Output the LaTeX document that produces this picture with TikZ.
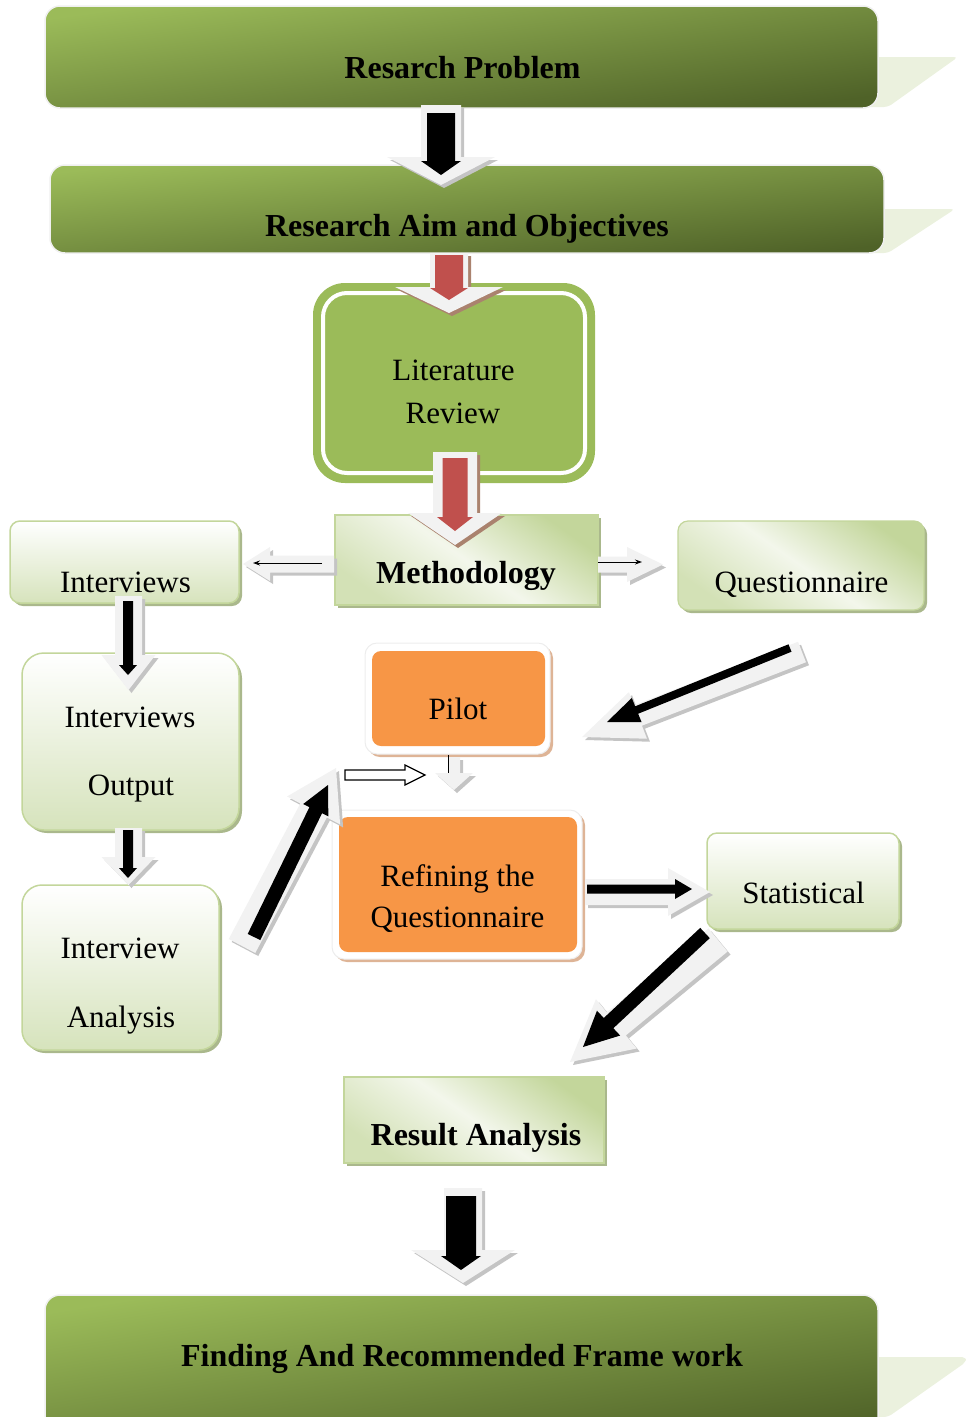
\documentclass[tikz,border=0pt]{standalone}
\usepackage{fontspec}
\setmainfont{Liberation Serif}
\usetikzlibrary{calc,arrows.meta,shadows}

\definecolor{oliveL}{RGB}{155,187,89}
\definecolor{oliveD}{RGB}{79,98,40}
\definecolor{paleG}{RGB}{235,241,222}
\definecolor{midG}{RGB}{214,227,188}
\definecolor{edgeG}{RGB}{195,214,155}
\definecolor{shadeG}{RGB}{170,184,140}
\definecolor{orangeF}{RGB}{247,150,70}
\definecolor{tanS}{RGB}{222,180,150}
\definecolor{arrowW}{RGB}{242,242,242}
\definecolor{arrowS}{RGB}{196,196,196}
\definecolor{redA}{RGB}{192,80,77}
\definecolor{redS}{RGB}{170,130,110}

% block arrow polygon: #1 style, #2 tail, #3 tip, #4 shaft half width, #5 head half width, #6 head length
\newcommand\blockarrow[6]{%
  \path ($(#3)!#6!(#2)$) coordinate (ba-neck);
  \path[#1] ($(#2)!#4!90:(#3)$) -- ($(ba-neck)!#4!90:(#3)$) -- ($(ba-neck)!#5!90:(#3)$) -- (#3)
    -- ($(ba-neck)!#5!-90:(#3)$) -- ($(ba-neck)!#4!-90:(#3)$) -- ($(#2)!#4!-90:(#3)$) -- cycle;}
% light raised arrow with a soft shadow
\newcommand\raisedarrow[6][arrowS]{%
  \blockarrow{fill=#1, transform canvas={shift={(3pt,-3pt)}}}{#2}{#3}{#4}{#5}{#6}%
  \blockarrow{fill=arrowW}{#2}{#3}{#4}{#5}{#6}}

\tikzset{
  banner/.style={rounded corners=15pt, draw=black!6, line width=1.5pt,
    top color=oliveL, bottom color=oliveD, shading angle=8},
  bannerback/.style={fill=paleG, rounded corners=4pt},
  softbox/.style={rounded corners=10pt, draw=edgeG, line width=1.5pt,
    top color=white, bottom color=midG,
    drop shadow={shadow xshift=3pt, shadow yshift=-3pt, fill=shadeG, opacity=1}},
  diagbox/.style={draw=edgeG, line width=1.2pt,
    top color=edgeG, bottom color=edgeG!60!paleG, middle color=paleG!60!white, shading angle=-35,
    drop shadow={shadow xshift=3pt, shadow yshift=-3pt, fill=shadeG, opacity=1}},
  orangeframe/.style={fill=white, draw=black!7, line width=1pt, rounded corners=12pt,
    drop shadow={shadow xshift=3pt, shadow yshift=-3pt, fill=tanS, opacity=1}},
  orangebox/.style={fill=orangeF, rounded corners=9pt},
  boldtext/.style={font=\fontsize{32}{38}\selectfont\bfseries, anchor=base, inner sep=0pt},
  plaintext/.style={font=\fontsize{31}{37}\selectfont, anchor=base, inner sep=0pt},
  thinarrow/.style={line width=1pt, -{Stealth[length=7pt,width=5pt]}},
}

\begin{document}
\begin{tikzpicture}[x=1pt,y=-1pt]
\useasboundingbox (0,0) rectangle (966,1417);
\clip (0,0) rectangle (966,1417);

% ---------- banners ----------
\fill[bannerback] (860,57) -- (958,57) -- (888,107) -- (860,107) -- cycle;
\node[banner, minimum width=833pt, minimum height=102pt] (rp) at (461.5,57) {};
\node[boldtext] (rp-t) at (462.5,78) {Resarch Problem};

\fill[bannerback] (860,209) -- (955,209) -- (888,253) -- (860,253) -- cycle;
\node[banner, shading angle=6, minimum width=834pt, minimum height=88pt] (ra) at (467,209) {};
\node[boldtext] (ra-t) at (467,236) {Research Aim and Objectives};

\fill[bannerback] (860,1357) -- (966,1357) -- (966,1362) -- (888,1417) -- (860,1417) -- cycle;
\node[banner, shading angle=9, minimum width=833pt, minimum height=145pt] (fin) at (461.5,1367.5) {};
\node[boldtext] (fin-t) at (462,1366) {Finding And Recommended Frame work};

% ---------- literature review ----------
\node[fill=oliveL, rounded corners=32pt, minimum width=282pt, minimum height=200pt] (lrframe) at (454,383) {};
\node[draw=white, line width=4pt, rounded corners=24pt, minimum width=262pt, minimum height=180pt] (lr) at (454,383) {};
\node[plaintext] (lr-t1) at (453.5,380) {Literature};
\node[plaintext] (lr-t2) at (453,423) {Review};

% ---------- methodology row ----------
\node[diagbox, minimum width=263pt, minimum height=90pt] (meth) at (466.5,560) {};
\node[boldtext] (meth-t) at (466,583) {Methodology};

\node[softbox, minimum width=229pt, minimum height=82pt] (intv) at (124.5,562) {};
\node[plaintext] (intv-t) at (125.5,592) {Interviews};

\node[diagbox, rounded corners=10pt, minimum width=246pt, minimum height=89pt] (quest) at (801,565.5) {};
\node[plaintext] (quest-t) at (801.5,592) {Questionnaire};

% ---------- interview branch ----------
\node[softbox, rounded corners=22pt, minimum width=217pt, minimum height=177pt] (io) at (130.5,741.5) {};
\node[plaintext] (io-t1) at (130,727) {Interviews};
\node[plaintext] (io-t2) at (131,795) {Output};

\node[softbox, rounded corners=20pt, minimum width=197pt, minimum height=165pt] (ia) at (120.5,967.5) {};
\node[plaintext] (ia-t1) at (120,958) {Interview};
\node[plaintext] (ia-t2) at (121,1027) {Analysis};

% ---------- questionnaire branch ----------
\node[orangeframe, minimum width=185pt, minimum height=111pt] (pilotframe) at (457.5,698.5) {};
\node[orangebox, minimum width=173pt, minimum height=95pt] (pilot) at (458.5,698.5) {};
\node[plaintext] (pilot-t) at (458,719) {Pilot};

\node[orangeframe, minimum width=250pt, minimum height=149pt] (refframe) at (457,884.5) {};
\node[orangebox, minimum width=238pt, minimum height=135pt] (ref) at (458,884.5) {};
\node[plaintext] (ref-t1) at (457.5,886) {Refining the};
\node[plaintext] (ref-t2) at (457.5,927) {Questionnaire};

\node[softbox, minimum width=192pt, minimum height=96pt] (stat) at (803,881) {};
\node[plaintext] (stat-t) at (803.5,903) {Statistical};

\node[diagbox, minimum width=260pt, minimum height=86pt] (res) at (474,1120) {};
\node[boldtext] (res-t) at (476,1145) {Result Analysis};

% ---------- connectors ----------
% research problem -> aim
\coordinate (a1o) at (441,105); \coordinate (a1e) at (441,185);
\coordinate (a1i) at (441,113); \coordinate (a1j) at (441,175);
\raisedarrow{a1o}{a1e}{20pt}{54pt}{28pt}
\blockarrow{fill=black}{a1i}{a1j}{14pt}{20pt}{14pt}

% aim -> literature review
\coordinate (a2o) at (449,253); \coordinate (a2e) at (449,313);
\coordinate (a2i) at (449,255); \coordinate (a2j) at (449,300);
\raisedarrow[redS]{a2o}{a2e}{19pt}{54pt}{26pt}
\blockarrow{fill=redA}{a2i}{a2j}{14pt}{19pt}{12pt}

% literature review -> methodology
\coordinate (a3o) at (455,452); \coordinate (a3e) at (455,545);
\coordinate (a3i) at (455,458); \coordinate (a3j) at (455,531);
\raisedarrow[redS]{a3o}{a3e}{22pt}{47pt}{32pt}
\blockarrow{fill=redA}{a3i}{a3j}{12.5pt}{18pt}{14pt}

% methodology -> interviews
\coordinate (a4o) at (334,564); \coordinate (a4e) at (243,564);
\raisedarrow{a4o}{a4e}{8.5pt}{17pt}{27pt}
\coordinate (a4i) at (322,563); \coordinate (a4j) at (253,563);
\draw[thinarrow] (a4i) -- (a4j);

% methodology -> questionnaire
\coordinate (a5o) at (598,564.5); \coordinate (a5e) at (663,564.5);
\raisedarrow{a5o}{a5e}{8pt}{17.5pt}{36pt}
\coordinate (a5i) at (598,562); \coordinate (a5j) at (642,562);
\draw[thinarrow] (a5i) -- (a5j);

% interviews -> interviews output
\coordinate (a6o) at (128.5,596); \coordinate (a6e) at (128.5,690);
\coordinate (a6i) at (128,601); \coordinate (a6j) at (128,675);
\raisedarrow{a6o}{a6e}{13.5pt}{27pt}{35pt}
\blockarrow{fill=black}{a6i}{a6j}{5pt}{9pt}{10pt}

% interviews output -> interview analysis
\coordinate (a7o) at (128.5,828); \coordinate (a7e) at (128.5,885);
\coordinate (a7i) at (128,830); \coordinate (a7j) at (128,878);
\raisedarrow{a7o}{a7e}{13.5pt}{27pt}{28pt}
\blockarrow{fill=black}{a7i}{a7j}{5pt}{9pt}{10pt}

% interview analysis -> pilot stage
\coordinate (a8o) at (242,946); \coordinate (a8e) at (336,768);
\coordinate (a8i) at (254,937); \coordinate (a8j) at (328,785);
\raisedarrow{a8o}{a8e}{15pt}{30pt}{48pt}
\blockarrow{fill=black}{a8i}{a8j}{7pt}{14pt}{28pt}

% questionnaire -> pilot
\coordinate (a9o) at (802,652); \coordinate (a9e) at (582,737);
\coordinate (a9i) at (790,648); \coordinate (a9j) at (607,722);
\raisedarrow{a9o}{a9e}{11pt}{25pt}{60pt}
\blockarrow{fill=black}{a9i}{a9j}{4pt}{13pt}{32pt}

% pilot -> refining
\coordinate (a10o) at (454,757); \coordinate (a10e) at (454,790);
\raisedarrow{a10o}{a10e}{6pt}{19pt}{17pt}
\coordinate (a10i) at (448,755); \coordinate (a10j) at (448,773);
\draw[line width=1pt] (a10i) -- (a10j);

% hollow arrow into the pilot stage
\coordinate (a11o) at (345,775); \coordinate (a11e) at (425,775);
\blockarrow{fill=white, draw=black, line width=1.2pt}{a11o}{a11e}{5pt}{10pt}{20pt}

% refining -> statistical
\coordinate (a12o) at (585,892); \coordinate (a12e) at (710,892);
\coordinate (a12i) at (587,889); \coordinate (a12j) at (692,889);
\raisedarrow{a12o}{a12e}{13pt}{24pt}{42pt}
\blockarrow{fill=black}{a12i}{a12j}{4.5pt}{10pt}{17pt}

% statistical -> result analysis
\coordinate (a13o) at (718,940); \coordinate (a13e) at (570,1062);
\coordinate (a13i) at (705,933); \coordinate (a13j) at (583,1047);
\raisedarrow{a13o}{a13e}{15pt}{32pt}{60pt}
\blockarrow{fill=black}{a13i}{a13j}{7pt}{17pt}{35pt}

% result analysis -> findings
\coordinate (a14o) at (463,1188); \coordinate (a14e) at (463,1283);
\coordinate (a14i) at (461,1196); \coordinate (a14j) at (461,1270);
\raisedarrow{a14o}{a14e}{19pt}{52pt}{33pt}
\blockarrow{fill=black}{a14i}{a14j}{15pt}{20pt}{14pt}

\end{tikzpicture}
\end{document}
